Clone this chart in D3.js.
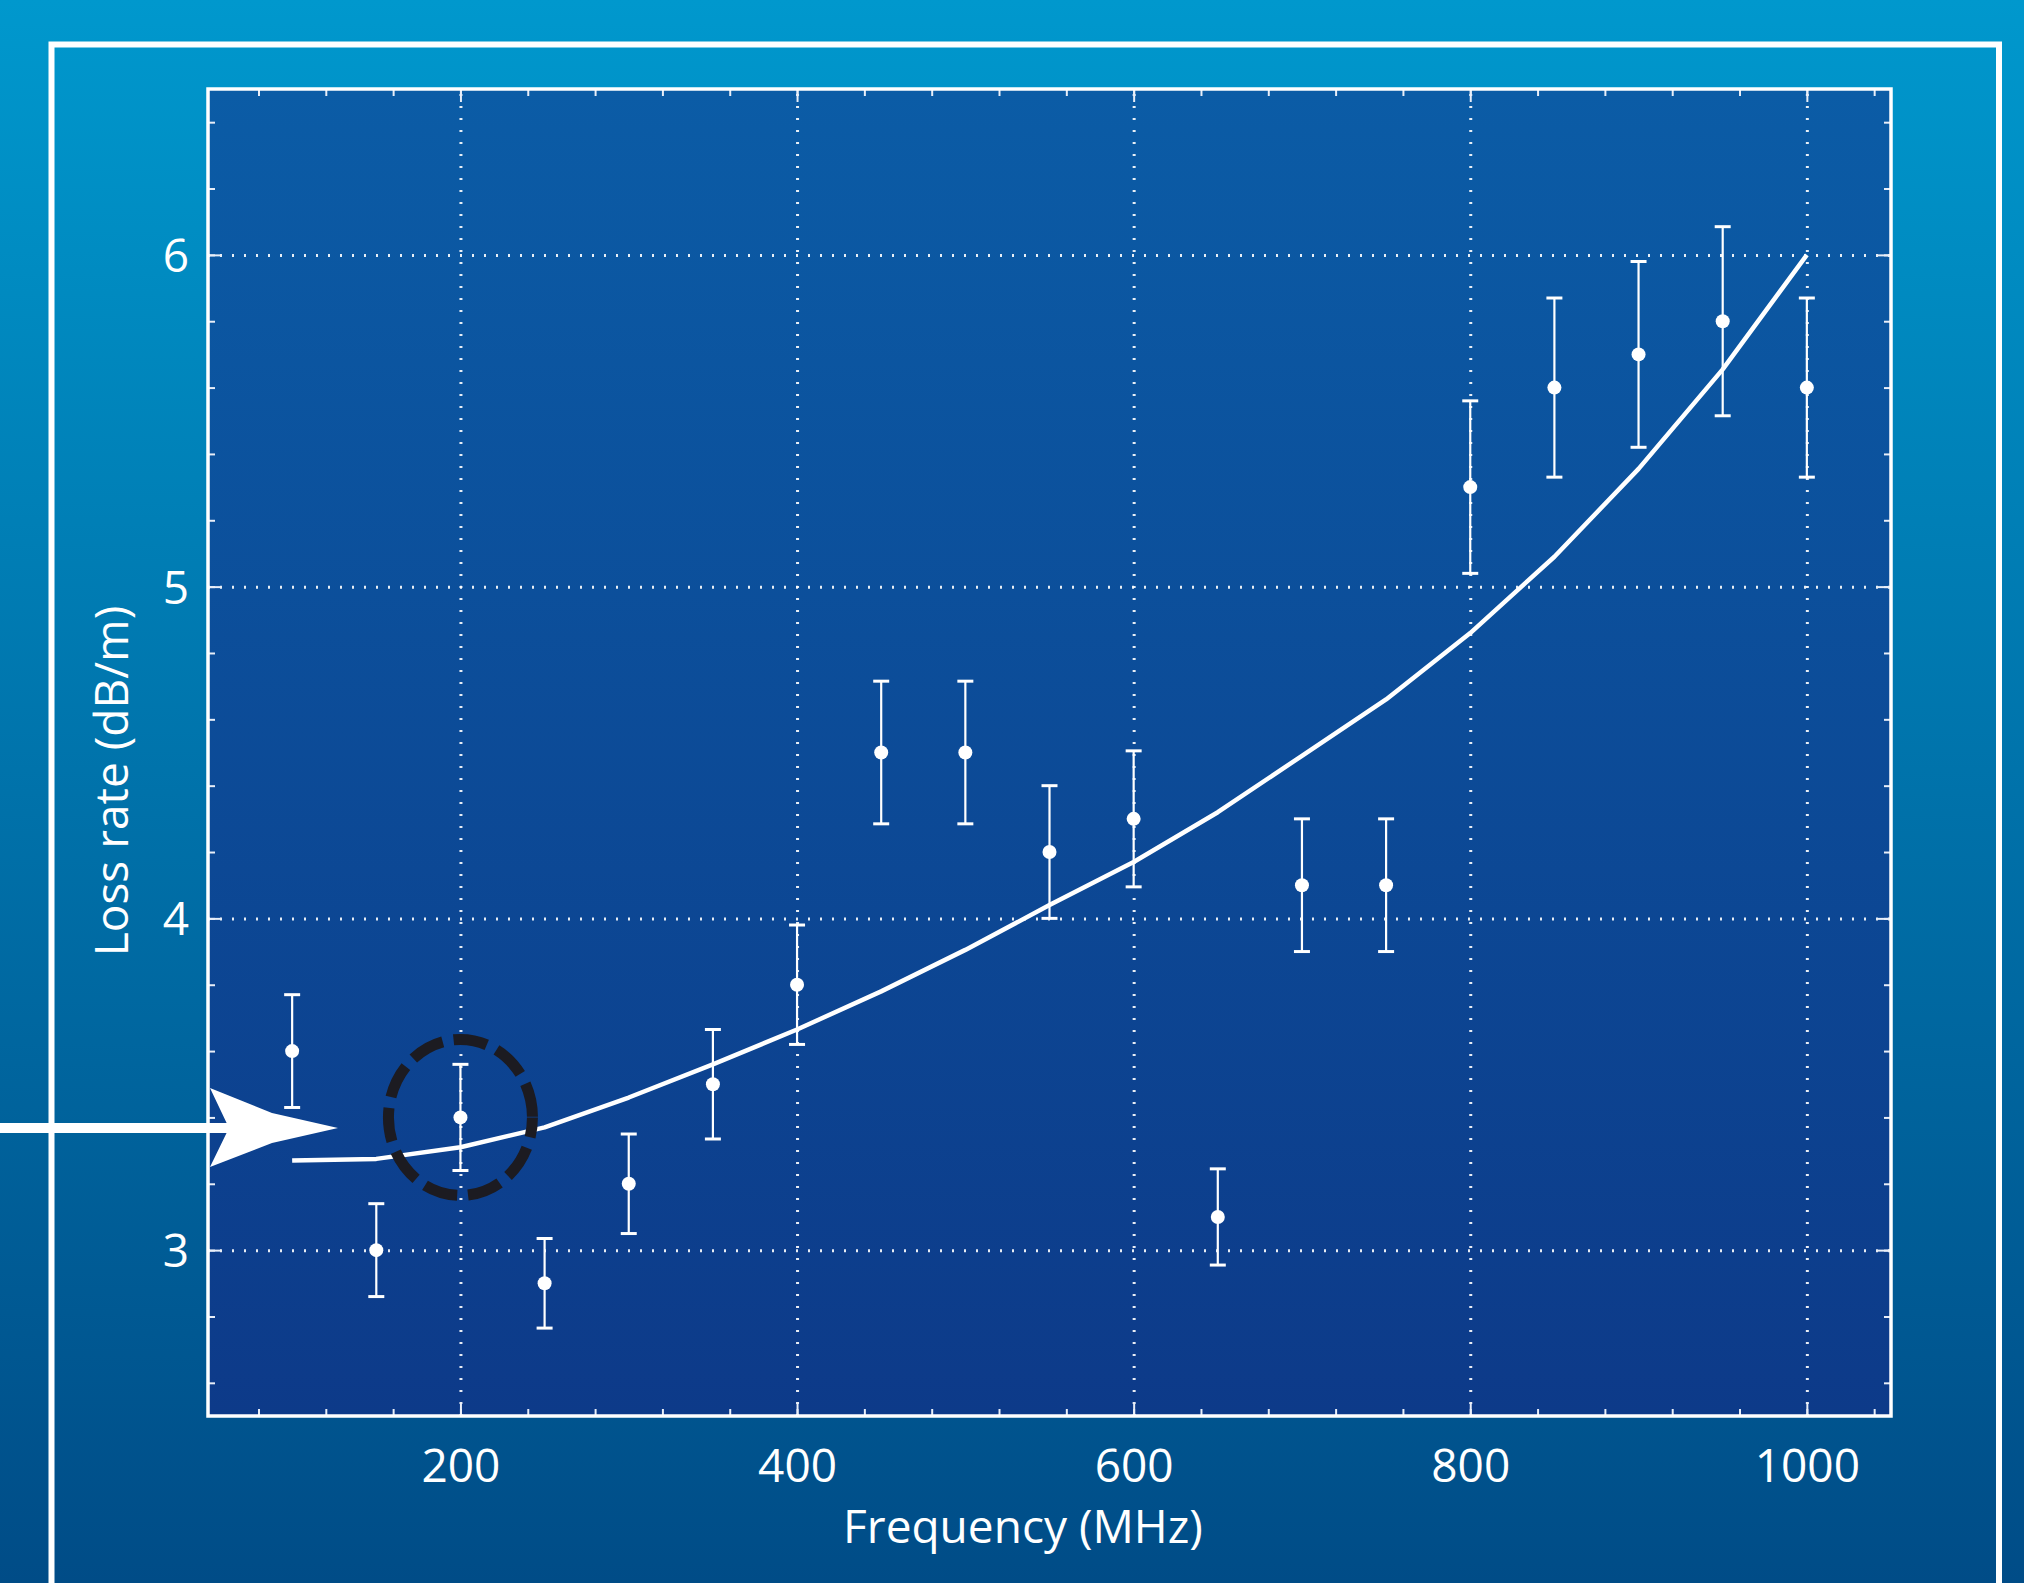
<!DOCTYPE html>
<html>
<head>
<meta charset="utf-8">
<script src="https://cdn.jsdelivr.net/npm/d3@7"></script>
<style>
  html, body { margin: 0; padding: 0; background: #0072aa; }
  svg { display: block; }
  text { font-family: "Open Sans", "Noto Sans", sans-serif; fill: #fff; }
</style>
</head>
<body>
<div id="chart"></div>
<script>
const freqs    = [100, 150, 200, 250, 300, 350, 400, 450, 500, 550, 600, 650, 700, 750, 800, 850, 900, 950, 1000];
const lossRate = [3.60, 3.00, 3.40, 2.90, 3.20, 3.50, 3.80, 4.50, 4.50, 4.20, 4.30, 3.10, 4.10, 4.10, 5.30, 5.60, 5.70, 5.80, 5.60];
const lossErr  = [0.17, 0.14, 0.16, 0.135, 0.15, 0.165, 0.18, 0.215, 0.215, 0.20, 0.205, 0.145, 0.20, 0.20, 0.26, 0.27, 0.28, 0.285, 0.27];

// Fitted curve
const fitFreqs = [100, 150, 200, 250, 300, 350, 400, 450, 500, 550, 600, 650, 700, 750, 800, 850, 900, 950, 1000];
const fitLoss  = [3.27, 3.275, 3.31, 3.37, 3.46, 3.56, 3.665, 3.78, 3.905, 4.04, 4.17, 4.32, 4.49, 4.66, 4.86, 5.09, 5.355, 5.655, 6.0];

// Axes
const xDomain = [50, 1050];
const yDomain = [2.5, 6.5];
const xTickValues = [200, 400, 600, 800, 1000];
const yTickValues = [3, 4, 5, 6];
const xMinorTicks = d3.range(2, 27).map(i => i * 40);      // 80 .. 1040
const yMinorTicks = d3.range(13, 33).map(i => i / 5);      // 2.6 .. 6.4
const xLabel = "Frequency (MHz)";
const yLabel = "Loss rate (dB/m)";
const highlightFreq = 200;

const W = 2024, H = 1583;
const plot = { left: 208, top: 89, right: 1891, bottom: 1416 };

const svg = d3.select("#chart").append("svg")
  .attr("width", W)
  .attr("height", H);

const defs = svg.append("defs");
const bgGrad = defs.append("linearGradient").attr("id", "bg").attr("x1", 0).attr("y1", 0).attr("x2", 0).attr("y2", 1);
bgGrad.append("stop").attr("offset", "0%").attr("stop-color", "#0098cd");
bgGrad.append("stop").attr("offset", "100%").attr("stop-color", "#004c87");
const plotGrad = defs.append("linearGradient").attr("id", "plotbg").attr("x1", 0).attr("y1", 0).attr("x2", 0).attr("y2", 1);
plotGrad.append("stop").attr("offset", "0%").attr("stop-color", "#0b5ca6");
plotGrad.append("stop").attr("offset", "100%").attr("stop-color", "#0d3a89");

// Background
svg.append("rect").attr("width", W).attr("height", H).attr("fill", "url(#bg)");

// Outer frame (open at the bottom)
svg.append("path")
  .attr("d", `M51.5,${H + 10} V44.5 H1999 V${H + 10}`)
  .attr("fill", "none")
  .attr("stroke", "#fff")
  .attr("stroke-width", 6);

// Plot area
svg.append("rect")
  .attr("x", plot.left).attr("y", plot.top)
  .attr("width", plot.right - plot.left).attr("height", plot.bottom - plot.top)
  .attr("fill", "url(#plotbg)");

const x = d3.scaleLinear().domain(xDomain).range([plot.left, plot.right]);
const y = d3.scaleLinear().domain(yDomain).range([plot.bottom, plot.top]);
const ph = plot.bottom - plot.top, pw = plot.right - plot.left;

// Dotted grid
function styleGrid(g) {
  g.select(".domain").remove();
  g.selectAll("line")
    .attr("stroke", "rgba(255,255,255,0.9)")
    .attr("stroke-width", 3)
    .attr("stroke-dasharray", "2 10");
}
svg.append("g")
  .attr("transform", `translate(0,${plot.bottom})`)
  .call(d3.axisBottom(x).tickValues(xTickValues).tickSize(-ph).tickFormat(""))
  .call(styleGrid);
svg.append("g")
  .attr("transform", `translate(${plot.left},0)`)
  .call(d3.axisLeft(y).tickValues(yTickValues).tickSize(-pw).tickFormat(""))
  .call(styleGrid);

// Inward ticks on all four sides
function styleTicks(g) {
  g.select(".domain").remove();
  g.selectAll("line").attr("stroke", "#e8eef8").attr("stroke-width", 2);
  g.selectAll("text").remove();
}
const sides = [
  { axis: d3.axisBottom, scale: x, t: `translate(0,${plot.bottom})`, major: xTickValues, minor: xMinorTicks },
  { axis: d3.axisTop,    scale: x, t: `translate(0,${plot.top})`,    major: xTickValues, minor: xMinorTicks },
  { axis: d3.axisLeft,   scale: y, t: `translate(${plot.left},0)`,   major: yTickValues, minor: yMinorTicks },
  { axis: d3.axisRight,  scale: y, t: `translate(${plot.right},0)`,  major: yTickValues, minor: yMinorTicks }
];
sides.forEach(s => {
  svg.append("g").attr("transform", s.t)
    .call(s.axis(s.scale).tickValues(s.minor).tickSize(-7).tickFormat(""))
    .call(styleTicks);
  svg.append("g").attr("transform", s.t)
    .call(s.axis(s.scale).tickValues(s.major).tickSize(-13).tickFormat(""))
    .call(styleTicks);
});

// Plot frame
svg.append("rect")
  .attr("x", plot.left).attr("y", plot.top)
  .attr("width", pw).attr("height", ph)
  .attr("fill", "none")
  .attr("stroke", "#fff")
  .attr("stroke-width", 3.5);

// Tick labels
const xAxisG = svg.append("g")
  .attr("transform", `translate(0,${plot.bottom})`)
  .call(d3.axisBottom(x).tickValues(xTickValues).tickSize(0).tickPadding(0).tickFormat(d3.format("d")));
xAxisG.select(".domain").remove();
xAxisG.selectAll("text")
  .attr("y", 66).attr("dy", null)
  .attr("font-size", 46)
  .attr("font-family", "Open Sans")
  .attr("fill", "#fff");

const yAxisG = svg.append("g")
  .attr("transform", `translate(${plot.left},0)`)
  .call(d3.axisLeft(y).tickValues(yTickValues).tickSize(0).tickPadding(0).tickFormat(d3.format("d")));
yAxisG.select(".domain").remove();
yAxisG.selectAll("text")
  .attr("x", -19).attr("dy", "0.36em")
  .attr("font-size", 46)
  .attr("font-family", "Open Sans")
  .attr("fill", "#fff");

// Axis titles
svg.append("text")
  .attr("x", 1023).attr("y", 1543)
  .attr("text-anchor", "middle")
  .attr("font-size", 46)
  .text(xLabel);
svg.append("text")
  .attr("transform", `translate(128,781) rotate(-90)`)
  .attr("text-anchor", "middle")
  .attr("font-size", 46)
  .text(yLabel);

// Fitted curve
const fitPts = fitFreqs.map((f, i) => [f, fitLoss[i]]);
svg.append("path")
  .datum(fitPts)
  .attr("d", d3.line().x(d => x(d[0])).y(d => y(d[1])))
  .attr("fill", "none")
  .attr("stroke", "#fff")
  .attr("stroke-width", 4.5)
  .attr("stroke-linejoin", "round");

// Error bars and points
const pts = freqs.map((f, i) => ({ f, v: lossRate[i], e: lossErr[i] }));
const eb = svg.append("g").attr("stroke", "#fff");
eb.selectAll("line.bar").data(pts).enter().append("line")
  .attr("class", "bar")
  .attr("x1", d => x(d.f)).attr("x2", d => x(d.f))
  .attr("y1", d => y(d.v - d.e)).attr("y2", d => y(d.v + d.e))
  .attr("stroke-width", 2.2);
eb.selectAll("line.capTop").data(pts).enter().append("line")
  .attr("class", "capTop")
  .attr("x1", d => x(d.f) - 8).attr("x2", d => x(d.f) + 8)
  .attr("y1", d => y(d.v + d.e)).attr("y2", d => y(d.v + d.e))
  .attr("stroke-width", 3);
eb.selectAll("line.capBot").data(pts).enter().append("line")
  .attr("class", "capBot")
  .attr("x1", d => x(d.f) - 8).attr("x2", d => x(d.f) + 8)
  .attr("y1", d => y(d.v - d.e)).attr("y2", d => y(d.v - d.e))
  .attr("stroke-width", 3);
svg.selectAll("circle.pt").data(pts).enter().append("circle")
  .attr("class", "pt")
  .attr("cx", d => x(d.f)).attr("cy", d => y(d.v))
  .attr("r", 7)
  .attr("fill", "#fff");

// Highlight ring around the 200 MHz point
const hp = pts.find(d => d.f === highlightFreq);
svg.append("ellipse")
  .attr("cx", x(hp.f)).attr("cy", y(hp.v))
  .attr("rx", 72).attr("ry", 78)
  .attr("fill", "none")
  .attr("stroke", "#1c1b21")
  .attr("stroke-width", 11)
  .attr("stroke-dasharray", "34 11")
  .attr("stroke-dashoffset", 14);

// Pointer arrow coming from the left edge
const ay = 1128;
svg.append("line")
  .attr("x1", 0).attr("x2", 236)
  .attr("y1", ay).attr("y2", ay)
  .attr("stroke", "#fff")
  .attr("stroke-width", 10);
svg.append("path")
  .attr("d", `M210,${ay - 40} L272,${ay - 15} L338,${ay} L272,${ay + 15} L210,${ay + 39} L229,${ay} Z`)
  .attr("fill", "#fff");
</script>
</body>
</html>
